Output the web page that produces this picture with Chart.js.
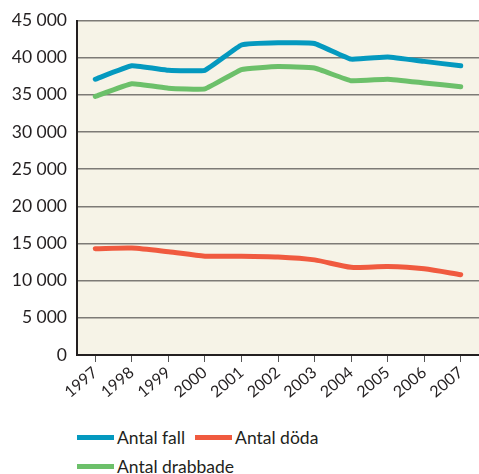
<!DOCTYPE html>
<html>
<head>
<meta charset="utf-8">
<script src="https://cdn.jsdelivr.net/npm/chart.js@4"></script>
<style>
  body { margin: 0; background: #fff; }
  #wrap { width: 479px; height: 474px; position: relative; }
  #myChart { display: block; }
  #legend { position: absolute; left: 77px; top: 423px; width: 300px; font-family: Lato, "Open Sans", sans-serif; font-size: 17.5px; color: #231f20; }
  .item { display: inline-flex; align-items: center; margin-right: 10px; height: 28px; }
  .swatch { width: 37px; height: 5px; margin-right: 3px; }
</style>
</head>
<body>
<div id="wrap">
  <canvas id="myChart" width="479" height="410"></canvas>
  <div id="legend"></div>
</div>
<script>
const years = ['1997', '1998', '1999', '2000', '2001', '2002', '2003', '2004', '2005', '2006', '2007'];
const antalFall = [37100, 38900, 38300, 38300, 41700, 42000, 41900, 39800, 40100, 39500, 38900];
const antalDoda = [14300, 14400, 13900, 13300, 13300, 13200, 12800, 11800, 11900, 11600, 10800];
const antalDrabbade = [34800, 36500, 35900, 35800, 38400, 38800, 38600, 36900, 37100, 36600, 36100];

const plotBg = {
    id: 'plotBg',
    beforeDraw(chart) {
        const { ctx, chartArea } = chart;
        ctx.save();
        ctx.fillStyle = '#f6f3e7';
        ctx.fillRect(chartArea.left, chartArea.top, chartArea.right - chartArea.left, chartArea.bottom - chartArea.top);
        ctx.restore();
    }
};

const ctx = document.getElementById('myChart');
const myChart = new Chart(ctx, {
    type: 'line',
    data: {
        labels: years,
        datasets: [{
            label: 'Antal fall',
            data: antalFall,
            borderColor: '#0499bf',
            tension: 0.1
        }, {
            label: 'Antal döda',
            data: antalDoda,
            borderColor: '#f05a3f',
            tension: 0.25
        }, {
            label: 'Antal drabbade',
            data: antalDrabbade,
            borderColor: '#6cc06a',
            tension: 0.1
        }]
    },
    options: {
        responsive: false,
        animation: false,
        elements: {
            line: { borderWidth: 5, borderCapStyle: 'round', borderJoinStyle: 'round' },
            point: { radius: 0 }
        },
        layout: { padding: { top: 20, right: 0, bottom: 5, left: 0 } },
        scales: {
            x: {
                offset: true,
                grid: { drawOnChartArea: false, color: '#555', tickLength: 7, lineWidth: 1 },
                border: { color: '#231f20', width: 2 },
                ticks: {
                    minRotation: 40, maxRotation: 40, padding: 1,
                    color: '#231f20',
                    font: { family: 'Lato', size: 16 }
                },
                afterFit(scale) { scale.height = 50; }
            },
            y: {
                min: 0,
                max: 45000,
                ticks: {
                    stepSize: 5000,
                    padding: 10,
                    color: '#231f20',
                    font: { family: 'Lato', size: 17.5 },
                    callback: v => v === 0 ? '0' : String(v).replace(/\B(?=(\d{3})+(?!\d))/g, ' ')
                },
                grid: { color: '#7d7a76', lineWidth: 1.5, drawTicks: false },
                border: { color: '#231f20', width: 2 },
                afterFit(scale) { scale.width = 77; }
            }
        },
        plugins: {
            legend: { display: false },
            tooltip: { enabled: false }
        }
    },
    plugins: [plotBg]
});

const legend = document.getElementById('legend');
myChart.data.datasets.forEach(ds => {
    const item = document.createElement('span');
    item.className = 'item';
    const sw = document.createElement('span');
    sw.className = 'swatch';
    sw.style.background = ds.borderColor;
    item.appendChild(sw);
    item.appendChild(document.createTextNode(ds.label));
    legend.appendChild(item);
});
</script>
</body>
</html>
